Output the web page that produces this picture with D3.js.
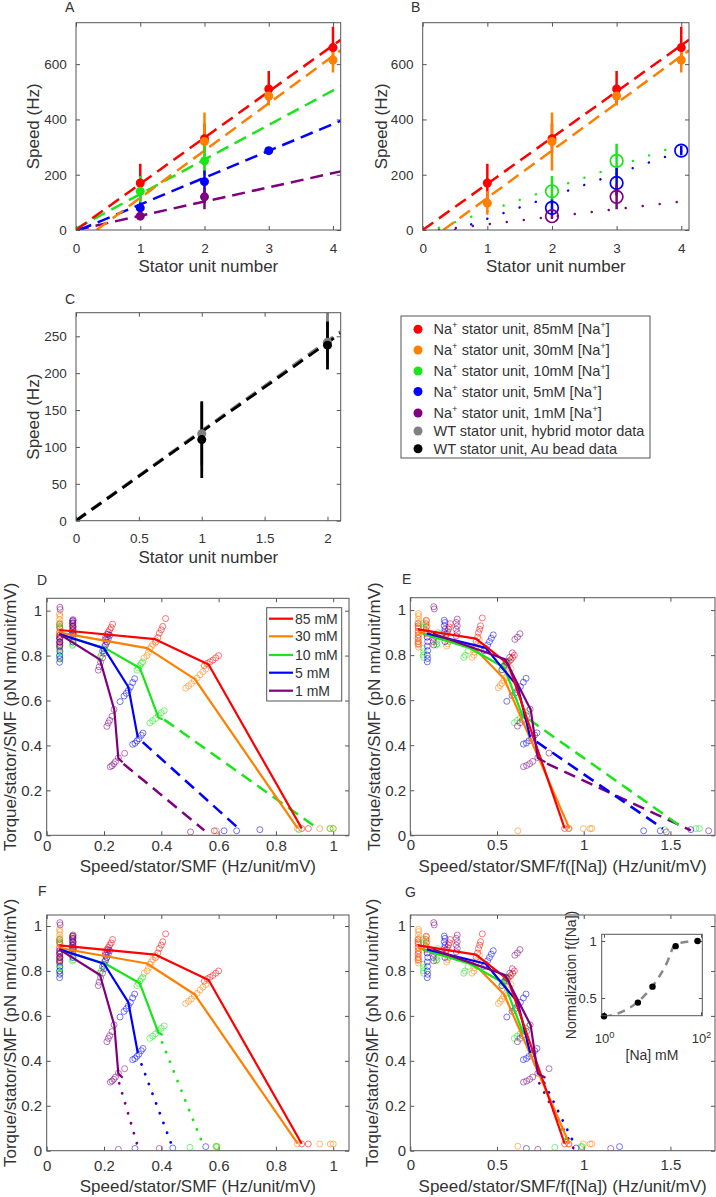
<!DOCTYPE html>
<html><head><meta charset="utf-8">
<script src="https://cdn.jsdelivr.net/npm/d3@7"></script>
<style>
body{margin:0;background:#fff}
svg{display:block}
text{font-family:"Liberation Sans",Arial,Helvetica,sans-serif;fill:#333}
</style>
</head><body>
<svg id="c" width="716" height="1197"></svg>
<script>
// ================= DATA =================
// Panels A/B: [stator number, speed, err low, err high]
const statorTicks = [0, 1, 2, 3, 4];
const speedTicks = [0, 200, 400, 600];
const aRed    = [[1,170,105,240],[2,330,280,385],[3,510,455,575],[4,660,600,735]];
const aOrange = [[2,320,215,425],[3,485,450,520],[4,615,570,660]];
const aGreen  = [[1,140,100,195],[2,250,200,325]];
const aBlue   = [[1,80,62,100],[2,175,130,215],[3,287,275,300]];
const aPurple = [[1,50,42,60],[2,120,75,150]];
const bOrange = [[1,97,55,140],[2,320,215,425],[3,485,450,520],[4,615,570,660]];
const bGreen  = [[2,140,95,195],[3,250,190,312]];
const bBlue   = [[2,80,55,110],[3,170,125,225],[4,287,270,305]];
const bPurple = [[2,50,40,60],[3,120,75,165]];
// linear fits [x, speed]
const fitRed    = [[0,0],[4.12,688]];
const fitOrange = [[0.32,0],[4.12,650]];
const fitGreen  = [[0,5],[4.12,520]];
const fitBlue   = [[0.05,0],[4.12,395]];
const fitPurple = [[0,0],[4.12,212]];
const dotGreenB  = [[0.25,8],[4,310]];
const dotBlueB   = [[0.5,0],[4,285]];
const dotPurpleB = [[0.25,0],[4,103]];
// Panel C
const cTicksX = [0, 0.5, 1, 1.5, 2];
const cTicksY = [0, 50, 100, 150, 200, 250];
const cBlack = [[1,110,58,162],[2,238,205,270]];
const cGrey  = [[1,118,75,160],[2,242,212,285]];
const fitBlack = [[0,0],[2.105,254]];
const fitGrey  = [[0,0],[2.105,256]];
const legendLabels = ["stator unit, 85mM","stator unit, 30mM","stator unit, 10mM","stator unit, 5mM","stator unit, 1mM",
  "WT stator unit, hybrid motor data","WT stator unit, Au bead data"];

// Panels D-G
const concLabels = ["85 mM","30 mM","10 mM","5 mM","1 mM"];
const naConc = [85, 30, 10, 5, 1];
const fNa    = [1.0, 0.955, 0.6, 0.46, 0.34];   // normalization f([Na]) (inset)
const naCurveX = [1, 1.97, 5.5, 10.4, 19.6, 29, 50.7, 81];
const naCurveY = [0.336, 0.366, 0.482, 0.614, 0.804, 0.965, 0.994, 1.003];
const torqueTicks = [0, 0.2, 0.4, 0.6, 0.8, 1];
const speedTicksD = [0, 0.2, 0.4, 0.6, 0.8, 1];
const speedTicksE = [0, 0.5, 1, 1.5];

const scat85 = [[0.045,0.94],[0.045,0.93],[0.046,0.92],[0.045,0.905],[0.046,0.89],[0.045,0.875],[0.046,0.86],[0.045,0.85],
  [0.092,0.955],[0.09,0.94],[0.092,0.925],[0.09,0.91],[0.093,0.895],
  [0.205,0.88],[0.21,0.895],[0.215,0.905],[0.22,0.915],[0.225,0.925],[0.23,0.94],
  [0.38,0.86],[0.388,0.88],[0.393,0.9],[0.4,0.915],[0.405,0.93],[0.415,0.965],
  [0.55,0.755],[0.56,0.765],[0.57,0.772],[0.58,0.78],[0.59,0.79],[0.6,0.8]];
const scat30 = [[0.045,0.985],[0.046,0.975],[0.045,0.96],[0.046,0.945],[0.045,0.925],[0.045,0.9],[0.046,0.88],[0.045,0.86],[0.046,0.845],[0.045,0.835],
  [0.09,0.95],[0.092,0.93],[0.09,0.905],[0.092,0.88],
  [0.2,0.84],[0.205,0.85],[0.21,0.86],
  [0.34,0.79],[0.35,0.8],[0.355,0.815],[0.36,0.83],[0.365,0.84],[0.37,0.85],[0.38,0.87],
  [0.485,0.655],[0.495,0.665],[0.505,0.675],[0.515,0.688],[0.525,0.7],[0.535,0.715],[0.545,0.728],[0.555,0.74]];
const scat10 = [[0.045,0.94],[0.046,0.925],[0.045,0.83],[0.046,0.815],[0.045,0.8],[0.046,0.79],
  [0.09,0.86],[0.092,0.85],[0.09,0.845],[0.095,0.9],
  [0.185,0.79],[0.19,0.8],[0.2,0.82],
  [0.315,0.735],[0.32,0.745],[0.325,0.755],[0.33,0.765],[0.335,0.772],
  [0.36,0.5],[0.37,0.51],[0.38,0.52],[0.39,0.535],[0.4,0.545],[0.41,0.555]];
const scat5 = [[0.045,0.88],[0.046,0.86],[0.045,0.84],[0.046,0.82],[0.045,0.8],[0.046,0.785],[0.045,0.77],
  [0.09,0.955],[0.092,0.945],[0.09,0.93],[0.092,0.915],[0.09,0.9],[0.092,0.86],
  [0.195,0.82],[0.2,0.83],[0.205,0.845],[0.21,0.86],[0.215,0.875],[0.22,0.89],
  [0.256,0.595],[0.27,0.62],[0.278,0.632],[0.285,0.645],[0.292,0.66],[0.3,0.68],[0.307,0.697],
  [0.3,0.405],[0.308,0.41],[0.315,0.42],[0.322,0.43],[0.33,0.445],[0.336,0.455]];
const scat1 = [[0.046,1.015],[0.047,1.005],[0.045,0.89],[0.046,0.875],[0.045,0.86],[0.046,0.845],
  [0.092,0.96],[0.09,0.945],[0.092,0.93],[0.09,0.915],[0.092,0.9],[0.09,0.885],
  [0.18,0.735],[0.183,0.75],[0.188,0.77],[0.195,0.79],[0.2,0.81],
  [0.205,0.87],[0.21,0.88],[0.215,0.895],
  [0.21,0.485],[0.215,0.5],[0.22,0.512],[0.228,0.53],[0.235,0.56],
  [0.222,0.305],[0.228,0.31],[0.234,0.318],[0.24,0.328],[0.25,0.345],[0.272,0.365]];
// zero-load points (D/E and F/G differ for low [Na])
const zeroHigh85 = [[0.89,0.03],[0.913,0.03]];
const zeroHigh30 = [[0.592,0.02],[0.875,0.03],[0.953,0.03],[0.99,0.03],[1.0,0.03]];
const zeroD10 = [[0.88,0.025],[0.988,0.03],[1.0,0.03]];
const zeroD5  = [[0.619,0.02],[0.663,0.02],[0.744,0.025]];
const zeroD1  = [[0.502,0.015],[0.585,0.02]];
const zeroF10 = [[0.5,0.015],[0.591,0.018],[0.595,0.018]];
const zeroF5  = [[0.308,0.01],[0.44,0.012],[0.555,0.018]];
const zeroF1  = [[0.25,0.006],[0.393,0.01]];
// torque-speed curves
const line85 = [[0.044,0.914],[0.378,0.873],[0.565,0.76],[0.89,0.031]];
const line30 = [[0.044,0.902],[0.35,0.833],[0.517,0.695],[0.876,0.031]];
const line10 = [[0.044,0.895],[0.205,0.832],[0.325,0.745],[0.39,0.525],[0.405,0.515]];
const line5  = [[0.044,0.896],[0.2,0.832],[0.285,0.66],[0.318,0.435]];
const line1  = [[0.044,0.896],[0.186,0.782],[0.236,0.558],[0.25,0.343],[0.265,0.325]];
const dashD10 = [[0.41,0.515],[0.93,0.045]];
const dashD5  = [[0.335,0.415],[0.67,0.03]];
const dashD1  = [[0.268,0.318],[0.55,0.022]];
const dotF10 = [[0.403,0.482],[0.549,0.015]];
const dotF5  = [[0.331,0.384],[0.44,0.013]];
const dotF1  = [[0.253,0.3],[0.32,0.01]];

// ================= STYLE =================
const C = {red:"#ff0000", orange:"#ff8000", green:"#19e619", blue:"#0000ff", purple:"#7f007f", grey:"#808080", black:"#000"};
const concColors = [C.red, C.orange, C.green, C.blue, C.purple];
const AXC = "#555";

const svg = d3.select("#c");
const defs = svg.append("defs");
let clipN = 0;

function makePanel(o) {
  const xs = (o.xlog ? d3.scaleLog() : d3.scaleLinear()).domain(o.xd).range([o.l, o.r]);
  const ys = d3.scaleLinear().domain(o.yd).range([o.b, o.t]);
  const id = "clip" + (clipN++);
  defs.append("clipPath").attr("id", id).append("rect")
    .attr("x", o.l).attr("y", o.t).attr("width", o.r - o.l).attr("height", o.b - o.t);
  const g = svg.append("g");
  if (o.fill) g.append("rect").attr("x", o.l).attr("y", o.t).attr("width", o.r - o.l).attr("height", o.b - o.t).attr("fill", "#fff");
  const axes = g.append("g");
  const plot = g.append("g").attr("clip-path", `url(#${id})`);
  const marks = g.append("g");
  const top = g.append("g");
  return {xs, ys, g, axes, plot, marks, top, o};
}

function frame(P, f) {
  const o = P.o, TK = f.tk || 4;
  const fs = f.fs;
  const bx = P.axes.append("g").attr("transform", `translate(0,${o.b})`)
    .call(d3.axisBottom(P.xs).tickValues(f.xt).tickFormat(f.xf || (d => String(d)))
      .tickSizeInner(-TK).tickSizeOuter(0).tickPadding(f.xBase - o.b - 0.71 * fs));
  const tx = P.axes.append("g").attr("transform", `translate(0,${o.t})`)
    .call(d3.axisTop(P.xs).tickValues(f.xt).tickFormat("").tickSizeInner(-TK).tickSizeOuter(0));
  const ly = P.axes.append("g").attr("transform", `translate(${o.l},0)`)
    .call(d3.axisLeft(P.ys).tickValues(f.yt).tickFormat(f.yf || (d => String(d)))
      .tickSizeInner(-TK).tickSizeOuter(0).tickPadding(f.yGap));
  const ry = P.axes.append("g").attr("transform", `translate(${o.r},0)`)
    .call(d3.axisRight(P.ys).tickValues(f.yt).tickFormat("").tickSizeInner(-TK).tickSizeOuter(0));
  [bx, tx, ly, ry].forEach(a => {
    a.select(".domain").remove();
    a.selectAll("line").attr("stroke", AXC).attr("stroke-width", 1);
    a.selectAll("text").attr("font-size", fs).attr("fill", "#333")
      .attr("font-family", '"Liberation Sans",Arial,sans-serif');
  });
  P.top.append("rect").attr("x", o.l).attr("y", o.t).attr("width", o.r - o.l).attr("height", o.b - o.t)
    .attr("fill", "none").attr("stroke", AXC).attr("stroke-width", 1);
  P.g.append("text").attr("x", (o.l + o.r) / 2).attr("y", f.xlBase).attr("text-anchor", "middle")
    .attr("font-size", f.lfs || 17).text(f.xlabel);
  P.g.append("text").attr("transform", `translate(${f.ylBase},${(o.t + o.b) / 2}) rotate(-90)`)
    .attr("text-anchor", "middle").attr("font-size", f.lfs || 17).text(f.ylabel);
  if (f.letter) svg.append("text").attr("x", f.letterX).attr("y", f.letterY).attr("font-size", 14)
    .attr("fill", "#111").text(f.letter);
  return {bx, ly};
}

const lineGen = P => d3.line().x(d => P.xs(d[0])).y(d => P.ys(d[1]));
function drawLine(P, pts, color, w, dash, cap) {
  P.plot.append("path").datum(pts).attr("d", lineGen(P)).attr("fill", "none")
    .attr("stroke", color).attr("stroke-width", w)
    .attr("stroke-dasharray", dash || null).attr("stroke-linecap", cap || "butt")
    .attr("stroke-linejoin", "round");
}
function errPoints(P, data, color, filled, r, errW) {
  P.plot.append("g").selectAll("line").data(data).join("line")
    .attr("x1", d => P.xs(d[0])).attr("x2", d => P.xs(d[0]))
    .attr("y1", d => P.ys(d[2])).attr("y2", d => P.ys(d[3]))
    .attr("stroke", color).attr("stroke-width", errW || 2.5);
  P.marks.append("g").selectAll("circle").data(data).join("circle")
    .attr("cx", d => P.xs(d[0])).attr("cy", d => P.ys(d[1])).attr("r", r)
    .attr("fill", filled ? color : "none").attr("stroke", color).attr("stroke-width", filled ? 0 : 1.7);
}
function scatter(P, pts, color) {
  P.plot.append("g").selectAll("circle").data(pts).join("circle")
    .attr("cx", d => P.xs(d[0])).attr("cy", d => P.ys(d[1])).attr("r", 3)
    .attr("fill", "none").attr("stroke", color).attr("stroke-width", 0.9).attr("opacity", 0.6);
}
const norm = (pts, f) => pts.map(p => [p[0] / f, p[1]]);

// ================= PANEL A =================
const DASH = "13,7";
const PA = makePanel({l:76, r:340.7, t:22.7, b:230, xd:[0,4.12], yd:[0,750]});
frame(PA, {xt:statorTicks, yt:speedTicks, fs:13.5, xBase:253, yGap:9.3, xlabel:"Stator unit number", xlBase:272,
  ylabel:"Speed (Hz)", ylBase:39, letter:"A", letterX:65, letterY:12});
drawLine(PA, fitPurple, C.purple, 2.5, DASH);
drawLine(PA, fitBlue, C.blue, 2.5, DASH);
drawLine(PA, fitGreen, C.green, 2.5, DASH);
drawLine(PA, fitOrange, C.orange, 2.5, DASH);
drawLine(PA, fitRed, C.red, 2.5, DASH);
errPoints(PA, aRed, C.red, true, 4.5);
errPoints(PA, aOrange, C.orange, true, 4.5);
errPoints(PA, aGreen, C.green, true, 4.5);
errPoints(PA, aBlue, C.blue, true, 4.5);
errPoints(PA, aPurple, C.purple, true, 4.5);

// ================= PANEL B =================
const DOTB = "0.1,17";
const PB = makePanel({l:422.7, r:689, t:22.7, b:230, xd:[0,4.12], yd:[0,750]});
frame(PB, {xt:statorTicks, yt:speedTicks, fs:13.5, xBase:253, yGap:9.3, xlabel:"Stator unit number", xlBase:272,
  ylabel:"Speed (Hz)", ylBase:386.5, letter:"B", letterX:411, letterY:12});
drawLine(PB, dotPurpleB, C.purple, 2.4, DOTB, "round");
drawLine(PB, dotBlueB, C.blue, 2.4, DOTB, "round");
drawLine(PB, dotGreenB, C.green, 2.4, DOTB, "round");
drawLine(PB, fitOrange, C.orange, 2.5, DASH);
drawLine(PB, fitRed, C.red, 2.5, DASH);
errPoints(PB, aRed, C.red, true, 4.5);
errPoints(PB, bOrange, C.orange, true, 4.5);
errPoints(PB, bGreen, C.green, false, 6.3);
errPoints(PB, bBlue, C.blue, false, 6.3);
errPoints(PB, bPurple, C.purple, false, 6.3);

// ================= PANEL C =================
const PC = makePanel({l:76, r:340.7, t:312.7, b:520.7, xd:[0,2.105], yd:[0,282]});
frame(PC, {xt:cTicksX, yt:cTicksY, fs:13.5, xBase:543, yGap:9.3, xlabel:"Stator unit number", xlBase:563,
  ylabel:"Speed (Hz)", ylBase:39, letter:"C", letterX:65, letterY:304});
drawLine(PC, fitGrey, C.grey, 3.4, "12,7");
drawLine(PC, fitBlack, C.black, 2.8, "12,7");
errPoints(PC, cGrey, C.grey, true, 4.5, 2.8);
errPoints(PC, cBlack, C.black, true, 4.5, 2.8);

// ================= LEGEND (top right) =================
{
  const lg = svg.append("g");
  lg.append("rect").attr("x", 401).attr("y", 316).attr("width", 249).attr("height", 142)
    .attr("fill", "#fff").attr("stroke", AXC).attr("stroke-width", 1);
  const rows = [329.3, 350, 371, 391.5, 413, 431, 448.7];
  const lc = [C.red, C.orange, C.green, C.blue, C.purple, C.grey, C.black];
  legendLabels.forEach((lab, i) => {
    lg.append("circle").attr("cx", 418).attr("cy", rows[i]).attr("r", 4.5).attr("fill", lc[i]);
    const t = lg.append("text").attr("x", 433.5).attr("y", rows[i] + 5).attr("font-size", 14.5);
    if (i < 5) {
      t.append("tspan").text("Na");
      t.append("tspan").attr("dy", -6).attr("font-size", 9.5).text("+");
      t.append("tspan").attr("dy", 6).text(" " + lab + " [Na");
      t.append("tspan").attr("dy", -6).attr("font-size", 9.5).text("+");
      t.append("tspan").attr("dy", 6).text("]");
    } else t.text(lab);
  });
}

// ================= PANELS D-G =================
const scats = [scat85, scat30, scat10, scat5, scat1];
const zerosD = [zeroHigh85, zeroHigh30, zeroD10, zeroD5, zeroD1];
const zerosF = [zeroHigh85, zeroHigh30, zeroF10, zeroF5, zeroF1];
const lines = [line85, line30, line10, line5, line1];
const dashD = [null, null, dashD10, dashD5, dashD1];
const dotF = [null, null, dotF10, dotF5, dotF1];
const lineOrder = [1, 2, 3, 0, 4];
const DASHD = "12,7", DOTF = "0.1,10.3";

function torquePanel(P, normalize, zeros, ext, extDash, extCap) {
  [0, 1, 2, 3, 4].forEach(i => {
    const f = normalize ? fNa[i] : 1;
    scatter(P, norm(scats[i].concat(zeros[i]), f), concColors[i]);
  });
  [4, 3, 2].forEach(i => {
    const f = normalize ? fNa[i] : 1;
    drawLine(P, norm(ext[i], f), concColors[i], extCap ? 2.8 : 2.5, extDash, extCap);
  });
  lineOrder.forEach(i => {
    const f = normalize ? fNa[i] : 1;
    drawLine(P, norm(lines[i], f), concColors[i], 2.2);
  });
}
const fmtT = d => String(d);

const PD = makePanel({l:46.7, r:349, t:598.3, b:835.3, xd:[0,1.055], yd:[0,1.055]});
frame(PD, {xt:speedTicksD, yt:torqueTicks, fs:15, xBase:851, yGap:4.7, xlabel:"Speed/stator/SMF (Hz/unit/mV)", xlBase:872,
  ylabel:"Torque/stator/SMF (pN nm/unit/mV)", ylBase:15.5, letter:"D", letterX:37, letterY:585});
torquePanel(PD, false, zerosD, dashD, DASHD, null);
{
  const lg = PD.top.append("g");
  lg.append("rect").attr("x", 266.7).attr("y", 607.7).attr("width", 75).attr("height", 93.3)
    .attr("fill", "#fff").attr("stroke", AXC).attr("stroke-width", 1);
  const rows = [618.7, 636.3, 655, 672.7, 690.7];
  concLabels.forEach((lab, i) => {
    lg.append("line").attr("x1", 269).attr("x2", 293).attr("y1", rows[i]).attr("y2", rows[i])
      .attr("stroke", concColors[i]).attr("stroke-width", 2.2);
    lg.append("text").attr("x", 295).attr("y", rows[i] + 5).attr("font-size", 14).text(lab);
  });
}

const PE = makePanel({l:410.3, r:715, t:597.7, b:835.3, xd:[0,1.757], yd:[0,1.055]});
frame(PE, {xt:speedTicksE, yt:torqueTicks, fs:15, xBase:850, yGap:4.3, xlabel:"Speed/stator/SMF/f([Na]) (Hz/unit/mV)", xlBase:872,
  ylabel:"Torque/stator/SMF (pN nm/unit/mV)", ylBase:380, letter:"E", letterX:402, letterY:584});
torquePanel(PE, true, zerosD, dashD, DASHD, null);

const PF = makePanel({l:46.7, r:349, t:915, b:1150.7, xd:[0,1.055], yd:[0,1.049]});
frame(PF, {xt:speedTicksD, yt:torqueTicks, fs:15, xBase:1171, yGap:4.7, xlabel:"Speed/stator/SMF (Hz/unit/mV)", xlBase:1192,
  ylabel:"Torque/stator/SMF (pN nm/unit/mV)", ylBase:15.5, letter:"F", letterX:38, letterY:896});
torquePanel(PF, false, zerosF, dotF, DOTF, "round");

const PG = makePanel({l:410.3, r:715, t:915, b:1150.7, xd:[0,1.757], yd:[0,1.049]});
frame(PG, {xt:speedTicksE, yt:torqueTicks, fs:15, xBase:1170, yGap:4.3, xlabel:"Speed/stator/SMF/f([Na]) (Hz/unit/mV)", xlBase:1192,
  ylabel:"Torque/stator/SMF (pN nm/unit/mV)", ylBase:378, letter:"G", letterX:405, letterY:897});
torquePanel(PG, true, zerosF, dotF, DOTF, "round");

// ================= INSET =================
{
  const PI = makePanel({l:601.7, r:702.3, t:934.3, b:1015.7, xd:[0.896,106.4], yd:[0.345,1.059], xlog:true, fill:true});
  const a = frame(PI, {xt:[1,100], yt:[0.5,1], fs:13, xBase:1043, yGap:5, xlabel:"[Na] mM", xlBase:1060, lfs:14,
    ylabel:"Normalization f([Na])", ylBase:576, tk:3.5});
  a.bx.selectAll(".tick text").each(function(d) {
    const t = d3.select(this); t.text("10");
    t.append("tspan").attr("dy", "-0.55em").attr("font-size", "72%").text(Math.round(Math.log10(d)));
  });
  const curve = naCurveX.map((x, i) => [x, naCurveY[i]]);
  PI.plot.append("path").datum(curve).attr("d", d3.line().x(d => PI.xs(d[0])).y(d => PI.ys(d[1])).curve(d3.curveMonotoneX))
    .attr("fill", "none").attr("stroke", "#888").attr("stroke-width", 2.5).attr("stroke-dasharray", "8,6");
  PI.marks.selectAll("circle").data(naConc.map((c, i) => [c, fNa[i]])).join("circle")
    .attr("cx", d => PI.xs(d[0])).attr("cy", d => PI.ys(d[1])).attr("r", 3.2).attr("fill", "#000");
}
</script>
</body></html>
